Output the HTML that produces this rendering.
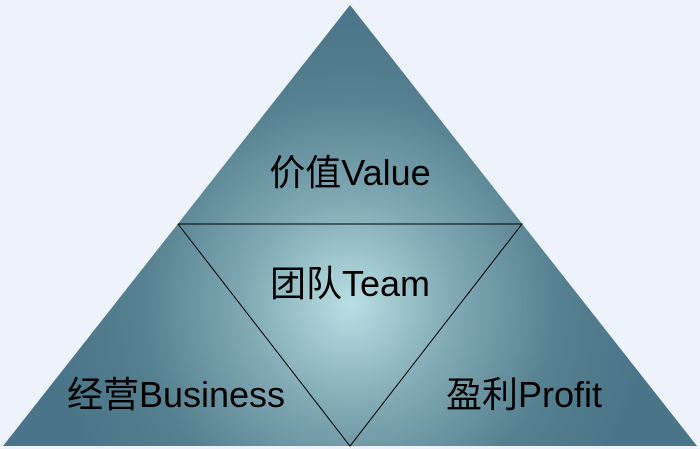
<!DOCTYPE html>
<html><head><meta charset="utf-8"><style>
html,body{margin:0;padding:0;background:#eef2fa;}
svg{display:block}
text{font-family:"Liberation Sans","Noto Sans CJK SC",sans-serif;font-size:36px;fill:#000}
</style></head><body>
<svg width="700" height="449" viewBox="0 0 700 449">
<defs>
<radialGradient id="g" cx="350" cy="305" r="300" gradientUnits="userSpaceOnUse">
<stop offset="0" stop-color="#b9dfe2"/>
<stop offset="0.35" stop-color="#80a9b4"/>
<stop offset="0.7" stop-color="#55808f"/>
<stop offset="1" stop-color="#4a7488"/>
</radialGradient>
</defs>
<rect width="700" height="449" fill="#eef2fa"/>
<polygon points="350,5 697,446 3,446" fill="url(#g)"/>
<polyline points="178,224 522,224 350,446 178,224" fill="none" stroke="#000" stroke-width="1"/>
<text x="350" y="185" text-anchor="middle">价值Value</text>
<text x="350" y="296" text-anchor="middle">团队Team</text>
<text x="176" y="407" text-anchor="middle">经营Business</text>
<text x="524" y="407" text-anchor="middle">盈利Profit</text>
</svg>
</body></html>
